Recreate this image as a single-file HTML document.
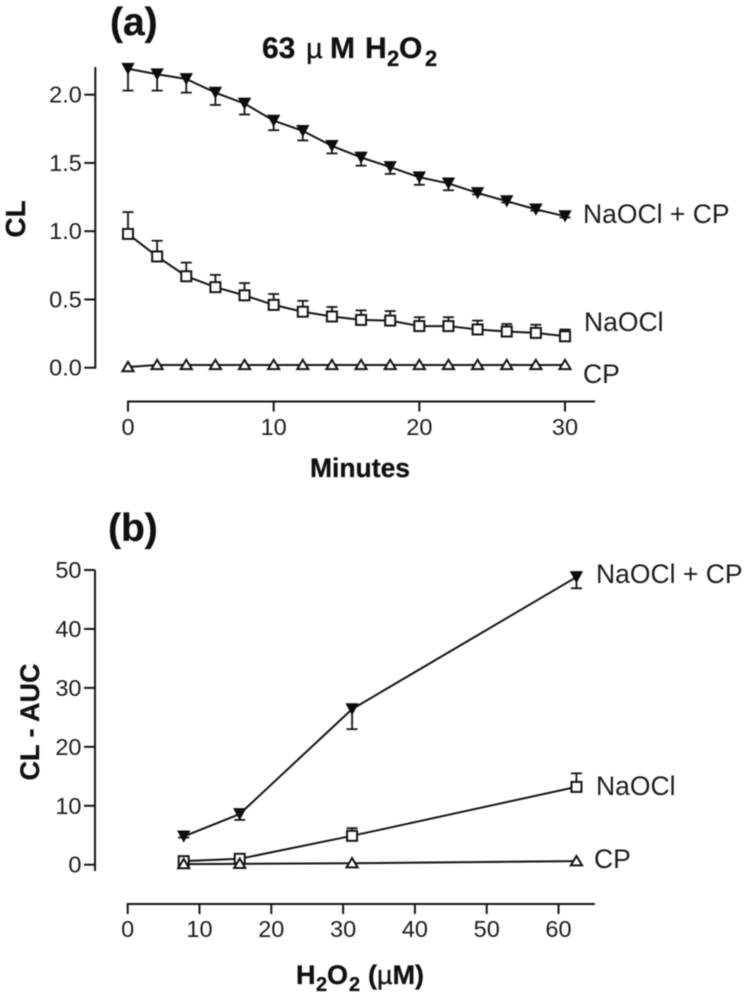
<!DOCTYPE html>
<html lang="en">
<head>
<meta charset="utf-8">
<title>CL time course and CL-AUC dose response</title>
<style>
html,body{margin:0;padding:0;background:#fff;}
svg{display:block;filter:blur(0.4px);}
text{font-family:"Liberation Sans",Arial,sans-serif;fill:#1c1c1c;}
.tick{font-size:23.5px;}
.lab{font-size:26.5px;}
.bold{font-weight:bold;fill:#111;stroke:#111;stroke-width:0.3px;}
</style>
</head>
<body>
<svg id="fig" xmlns="http://www.w3.org/2000/svg" width="748" height="1000" viewBox="0 0 748 1000">
  <rect width="748" height="1000" fill="#fff"/>
  <text class="bold" x="110" y="35" font-size="39">(a)</text>
  <text class="bold" y="58" font-size="30"><tspan x="262">63</tspan><tspan x="306" font-weight="normal" font-size="29">µ</tspan><tspan x="330">M</tspan><tspan x="365">H</tspan><tspan x="387" y="66" font-size="22">2</tspan><tspan x="399" y="58">O</tspan><tspan x="425" y="66" font-size="22">2</tspan></text>
  <text class="bold" font-size="28" text-anchor="middle" transform="translate(25 219) rotate(-90)">CL</text>
  <text class="bold" font-size="26.5" text-anchor="middle" x="360" y="477">Minutes</text>
  <text class="lab" x="583" y="223">NaOCl + CP</text>
  <text class="lab" x="584" y="331">NaOCl</text>
  <text class="lab" x="583" y="383">CP</text>

  <text class="bold" x="108" y="541" font-size="39">(b)</text>
  <text class="bold" font-size="27" text-anchor="middle" transform="translate(39 722) rotate(-90)">CL - AUC</text>
  <text class="bold" font-size="27" y="984"><tspan x="296">H</tspan><tspan x="316" y="991" font-size="20">2</tspan><tspan x="327" y="984">O</tspan><tspan x="349" y="991" font-size="20">2</tspan><tspan x="368" y="984">(</tspan><tspan font-weight="normal">µ</tspan><tspan>M)</tspan></text>
  <text class="lab" x="596" y="583">NaOCl + CP</text>
  <text class="lab" x="596" y="795">NaOCl</text>
  <text class="lab" x="594" y="868">CP</text>
  <g id="plots"></g>
</svg>
<script>
// Panel (a) data
const aMinutes = [0,2,4,6,8,10,12,14,16,18,20,22,24,26,28,30];
const aComboValues = [2.19,2.15,2.115,2.015,1.935,1.81,1.735,1.625,1.54,1.47,1.395,1.35,1.28,1.22,1.16,1.11];
const aComboErrors = [0.16,0.12,0.10,0.09,0.08,0.07,0.07,0.055,0.06,0.05,0.055,0.05,0.01,0.01,0.01,0.01];
const aNaoclValues = [0.98,0.815,0.67,0.59,0.53,0.46,0.41,0.375,0.35,0.345,0.305,0.305,0.28,0.265,0.255,0.23];
const aNaoclErrors = [0.16,0.115,0.10,0.09,0.09,0.08,0.08,0.07,0.07,0.07,0.065,0.065,0.065,0.055,0.06,0.05];
const aCpValues = [0.005,0.02,0.02,0.02,0.02,0.02,0.02,0.02,0.02,0.02,0.02,0.02,0.02,0.02,0.02,0.02];
const aXTicks = [0,10,20,30];
const aYTicks = [0,0.5,1,1.5,2];
const aYTickLabels = ['0.0','0.5','1.0','1.5','2.0'];

// Panel (b) data
const bConcentrations = [7.8,15.6,31.25,62.5];
const bComboValues = [4.8,8.6,26.4,48.8];
const bComboErrors = [0.2,1.0,3.4,1.9];
const bNaoclValues = [0.6,1.0,4.9,13.2];
const bNaoclErrors = [0.2,0.3,1.3,2.3];
const bCpValues = [0.1,0.15,0.25,0.6];
const bXTicks = [0,10,20,30,40,50,60];
const bYTicks = [0,10,20,30,40,50];

const NS = 'http://www.w3.org/2000/svg';
const INK = '#141414';
const root = document.getElementById('plots');

function linear(d0, d1, r0, r1) {
  return function (v) { return r0 + (v - d0) * (r1 - r0) / (d1 - d0); };
}
const xA = linear(0, 30, 128, 565);
const yA = linear(0, 2, 367.7, 94.7);
const xB = linear(0, 60, 127.7, 558.5);
const yB = linear(0, 50, 864.7, 570);

function shape(parent, tag, props) {
  const el = document.createElementNS(NS, tag);
  for (const k in props) el.setAttribute(k, props[k]);
  parent.appendChild(el);
  return el;
}
function line(parent, x1, y1, x2, y2, w) {
  return shape(parent, 'line', {x1: x1, y1: y1, x2: x2, y2: y2, stroke: INK, 'stroke-width': w});
}
function drawAxes(prefix, xs, ys, xTicks, yTicks, yLabels, xEnd, yAxisX, yTop, yBottom, xAxisY, labelY) {
  const g = shape(root, 'g', {});
  
  
  const yAxis = line(g, yAxisX, yTop, yAxisX, yBottom, 2);
  
  
  const xAxis = line(g, xs(0) - 1, xAxisY, xEnd, xAxisY, 2);
  
  
  yTicks.forEach(function (v, i) {
    const t = line(g, yAxisX - 11, ys(v), yAxisX, ys(v), 2);
    
    
    const lab = shape(g, 'text', {x: yAxisX - 13.5, y: ys(v) + 8, 'text-anchor': 'end', 'class': 'tick'});
    
    
    lab.textContent = yLabels[i];
  });
  xTicks.forEach(function (v) {
    const t = line(g, xs(v), xAxisY, xs(v), xAxisY + 10, 2);
    
    
    const lab = shape(g, 'text', {x: xs(v), y: labelY, 'text-anchor': 'middle', 'class': 'tick'});
    
    
    lab.textContent = String(v);
  });
}
function drawMarker(g, kind, px, py) {
  let m;
  if (kind === 'down') {
    m = shape(g, 'polygon', {points: (px - 6) + ',' + (py - 5.5) + ' ' + (px + 6) + ',' + (py - 5.5) + ' ' + px + ',' + (py + 5.5), fill: '#0c0c0c', stroke: '#0c0c0c', 'stroke-width': 0.8});
  } else if (kind === 'square') {
    m = shape(g, 'rect', {x: px - 5, y: py - 5, width: 10, height: 10, fill: '#fff', stroke: INK, 'stroke-width': 2});
  } else {
    m = shape(g, 'polygon', {points: (px - 5.6) + ',' + (py + 4.2) + ' ' + (px + 5.6) + ',' + (py + 4.2) + ' ' + px + ',' + (py - 5.2), fill: '#fff', stroke: INK, 'stroke-width': 2});
  }
  
  
}
function drawSeries(name, kind, xs, ys, xVals, yVals, errs, dir, lw) {
  const g = shape(root, 'g', {});
  
  
  if (errs) {
    xVals.forEach(function (x, i) {
      const end = yVals[i] + dir * errs[i];
      const bar = line(g, xs(x), ys(yVals[i]), xs(x), ys(end), 1.8);
      
      
      const cap = line(g, xs(x) - 5.5, ys(end), xs(x) + 5.5, ys(end), 1.8);
      
      
    });
  }
  const pts = xVals.map(function (x, i) { return xs(x) + ',' + ys(yVals[i]); }).join(' ');
  const path = shape(g, 'polyline', {points: pts, fill: 'none', stroke: INK, 'stroke-width': lw, 'stroke-linejoin': 'round'});
  
  
  xVals.forEach(function (x, i) { drawMarker(g, kind, xs(x), ys(yVals[i])); });
}

drawAxes('panel-a', xA, yA, aXTicks, aYTicks, aYTickLabels, 595, 95.3, 67, 368.7, 401.5, 435);
drawSeries('a-cp', 'triangle', xA, yA, aMinutes, aCpValues, null, 0, 2);
drawSeries('a-naocl', 'square', xA, yA, aMinutes, aNaoclValues, aNaoclErrors, 1, 2);
drawSeries('a-naocl-cp', 'down', xA, yA, aMinutes, aComboValues, aComboErrors, -1, 2);

drawAxes('panel-b', xB, yB, bXTicks, bYTicks, bYTicks.map(String), 595, 95, 570, 871, 904, 937);
drawSeries('b-naocl-cp', 'down', xB, yB, bConcentrations, bComboValues, bComboErrors, -1, 2);
drawSeries('b-naocl', 'square', xB, yB, bConcentrations, bNaoclValues, bNaoclErrors, 1, 2);
drawSeries('b-cp', 'triangle', xB, yB, bConcentrations, bCpValues, null, 0, 2);
</script>
</body>
</html>
